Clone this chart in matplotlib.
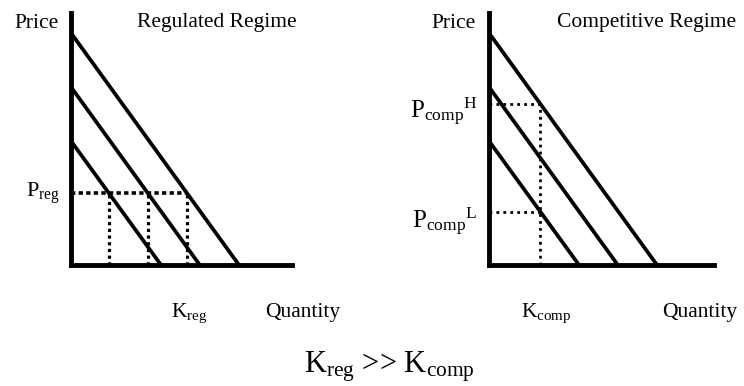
import numpy as np
import matplotlib
matplotlib.use("Agg")
import matplotlib.pyplot as plt

plt.rcParams['font.family'] = ['Liberation Serif', 'DejaVu Serif']
plt.rcParams['mathtext.fontset'] = 'custom'
plt.rcParams['mathtext.rm'] = 'Liberation Serif'
plt.rcParams['mathtext.it'] = 'Liberation Serif:italic'

# demand curves (price intercept, quantity intercept)
price_intercepts = [3.1, 4.45, 5.8]
qty_intercepts = [2.25, 3.22, 4.2]
p_reg = 1.8
k_comp = 1.28

titles = ["Regulated Regime", "Competitive Regime"]

W, H = 744, 386
fig = plt.figure(figsize=(W / 100, H / 100), dpi=100)

PX = 40.0  # pixels per data unit


def make_ax(left, right, top, bottom):
    ax = fig.add_axes([left / W, 1 - bottom / H, (right - left) / W, (bottom - top) / H])
    ax.set_xlim(0, (right - left) / PX)
    ax.set_ylim(0, (bottom - top) / PX)
    for s in ['top', 'right']:
        ax.spines[s].set_visible(False)
    for s in ['left', 'bottom']:
        ax.spines[s].set_linewidth(3.5)
        ax.spines[s].set_capstyle('projecting')
    ax.set_xticks([])
    ax.set_yticks([])
    ax.patch.set_alpha(0)
    return ax


def demand(ax):
    for a, q in zip(price_intercepts, qty_intercepts):
        ax.plot([0, q], [a, 0], color='black', lw=2.7, solid_capstyle='butt', clip_on=False)


def qty_at(p, i):
    return qty_intercepts[i] * (1 - p / price_intercepts[i])


def price_at(q, i):
    return price_intercepts[i] * (1 - q / qty_intercepts[i])


dot = dict(color='black', lw=2.3, ls=(0, (1, 1.1)), clip_on=False)
fs = 15.5

# regulated regime
ax1 = make_ax(71, 292, 13, 265)
demand(ax1)
k_reg = [qty_at(p_reg, i) for i in range(3)]
ax1.plot([0, max(k_reg)], [p_reg, p_reg], **dict(dot, lw=2.6, ls=(0, (1.2, 0.9))))
for k in k_reg:
    ax1.plot([k, k], [0, p_reg], **dot)
ax1.text(-0.85, 6.05, "Price", fontsize=fs, ha='center', va='center')
ax1.text(3.65, 6.05, titles[0], fontsize=fs, ha='center', va='center')
ax1.text(-0.27, p_reg, r"$\mathrm{P_{reg}}$", fontsize=16, ha='right', va='center')
ax1.text(max(k_reg) + 0.05, -1.2, r"$\mathrm{K_{reg}}$", fontsize=fs, ha='center', va='center')
ax1.text(5.78, -1.2, "Quantity", fontsize=fs, ha='center', va='center')

# competitive regime
ax2 = make_ax(489, 714, 13, 265)
demand(ax2)
p_high = price_at(k_comp, 2)
p_low = price_at(k_comp, 0)
cdot = dict(dot, lw=2.0, ls=(0, (1, 1.5)))
ax2.plot([k_comp, k_comp], [0, p_high], **cdot)
ax2.plot([0, k_comp], [p_high, p_high], **cdot)
ax2.plot([0, k_comp], [p_low, p_low], **cdot)
ax2.text(-0.88, 6.05, "Price", fontsize=fs, ha='center', va='center')
ax2.text(3.95, 6.05, titles[1], fontsize=fs, ha='center', va='center')
ax2.text(-0.28, p_high - 0.2, r"$\mathrm{{P_{comp}}^{H}}$", fontsize=18, ha='right', va='center')
ax2.text(-0.28, p_low - 0.25, r"$\mathrm{{P_{comp}}^{L}}$", fontsize=18, ha='right', va='center')
ax2.text(k_comp + 0.15, -1.2, r"$\mathrm{K_{comp}}$", fontsize=fs, ha='center', va='center')
ax2.text(5.27, -1.2, "Quantity", fontsize=fs, ha='center', va='center')

fig.text(389 / W, 1 - 367 / H, r"$\mathrm{K_{reg}}$ >> $\mathrm{K_{comp}}$",
         fontsize=22, ha='center', va='center')

fig.savefig("out.png", dpi=100, facecolor='white')
